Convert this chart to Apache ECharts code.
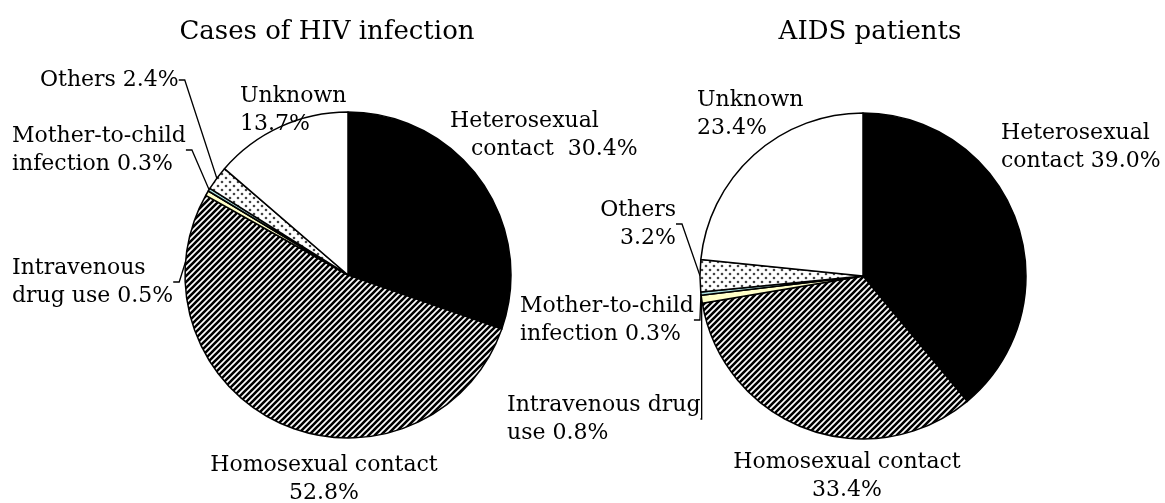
<!DOCTYPE html>
<html>
<head>
<meta charset="utf-8">
<script src="https://cdn.jsdelivr.net/npm/echarts@6/dist/echarts.min.js"></script>
<style>
  html, body { margin: 0; padding: 0; background: #fff; }
  #chart { width: 1165px; height: 503px; }
</style>
</head>
<body>
<div id="chart"></div>
<script>
var categories = ['Heterosexual contact', 'Homosexual contact', 'Intravenous drug use', 'Mother-to-child infection', 'Others', 'Unknown'];
var hivValues = [30.4, 52.8, 0.5, 0.3, 2.4, 13.7];
var aidsValues = [39.0, 33.4, 0.8, 0.3, 3.2, 23.4];
// how each label is broken into lines (value is appended)
var hivLabelNames = ['Heterosexual\n   contact  ', 'Homosexual contact\n', 'Intravenous\ndrug use ', 'Mother-to-child\ninfection ', 'Others ', 'Unknown\n'];
var aidsLabelNames = ['Heterosexual\ncontact ', 'Homosexual contact\n', 'Intravenous drug\nuse ', 'Mother-to-child\ninfection ', 'Others\n', 'Unknown\n'];
var titles = ['Cases of HIV infection', 'AIDS patients'];

var FONT = 'DejaVu Serif';

function hatchPattern() {
	var c = document.createElement('canvas');
	c.width = 6; c.height = 6;
	var ctx = c.getContext('2d');
	ctx.fillStyle = '#fff';
	ctx.fillRect(0, 0, 6, 6);
	ctx.strokeStyle = '#000';
	ctx.lineWidth = 2.6;
	ctx.beginPath();
	ctx.moveTo(-1, 1); ctx.lineTo(1, -1);
	ctx.moveTo(0, 6); ctx.lineTo(6, 0);
	ctx.moveTo(5, 7); ctx.lineTo(7, 5);
	ctx.stroke();
	return c;
}

function dotPattern() {
	var c = document.createElement('canvas');
	c.width = 8; c.height = 8;
	var ctx = c.getContext('2d');
	ctx.fillStyle = '#fff';
	ctx.fillRect(0, 0, 8, 8);
	ctx.fillStyle = '#444';
	ctx.beginPath(); ctx.arc(2, 2, 1.3, 0, Math.PI * 2); ctx.fill();
	ctx.beginPath(); ctx.arc(6, 6, 1.3, 0, Math.PI * 2); ctx.fill();
	return c;
}

var fills = [
	'#000',
	{ image: hatchPattern(), repeat: 'repeat' },
	'#ffffc8',
	'#a8dcdc',
	{ image: dotPattern(), repeat: 'repeat' },
	'#fff'
];
var withLine = [false, false, true, true, true, false];

// label placement (top-left corner unless aligned otherwise)
var hivLabelPos = [
	{ x: 450, y: 107 },
	{ x: 324, y: 451, align: 'center' },
	{ x: 12, y: 254 },
	{ x: 12, y: 122 },
	{ x: 40, y: 66 },
	{ x: 240, y: 82 }
];
var aidsLabelPos = [
	{ x: 1001, y: 119 },
	{ x: 847, y: 448, align: 'center' },
	{ x: 507, y: 391 },
	{ x: 520, y: 292 },
	{ x: 676, y: 196, align: 'right' },
	{ x: 697, y: 86 }
];

function buildData(values, names) {
	return values.map(function(v, i) {
		return {
			name: categories[i],
			value: v,
			labelText: names[i] + v.toFixed(1) + '%',
			itemStyle: { color: fills[i] },
			labelLine: { show: withLine[i] }
		};
	});
}

function buildSeries(values, names, center, positions) {
	var data = buildData(values, names);
	return {
		type: 'pie',
		center: center,
		radius: 163,
		startAngle: 90,
		clockwise: true,
		avoidLabelOverlap: false,
		silent: true,
		animation: false,
		data: data,
		itemStyle: {
			borderColor: '#000',
			borderWidth: 1.5
		},
		label: {
			show: true,
			position: 'outside',
			fontFamily: FONT,
			fontSize: 22,
			lineHeight: 28,
			color: '#000',
			formatter: function(p) {
				return data[p.dataIndex].labelText;
			}
		},
		labelLine: {
			length: 10,
			length2: 6,
			lineStyle: { color: '#000', width: 1.3 }
		},
		labelLayout: function(p) {
			var pos = positions[p.dataIndex];
			return {
				x: pos.x,
				y: pos.y,
				align: pos.align || 'left',
				verticalAlign: 'top'
			};
		}
	};
}

var chart = echarts.init(document.getElementById('chart'));
var titleStyle = { fontFamily: FONT, fontSize: 26, fontWeight: 'normal', color: '#000' };
chart.setOption({
	backgroundColor: '#fff',
	title: [{
		text: titles[0],
		left: 322,
		top: 14,
		textAlign: 'center',
		textStyle: titleStyle
	}, {
		text: titles[1],
		left: 865,
		top: 14,
		textAlign: 'center',
		textStyle: titleStyle
	}],
	series: [
		buildSeries(hivValues, hivLabelNames, [348, 275], hivLabelPos),
		buildSeries(aidsValues, aidsLabelNames, [863, 276], aidsLabelPos)
	]
});
</script>
</body>
</html>
